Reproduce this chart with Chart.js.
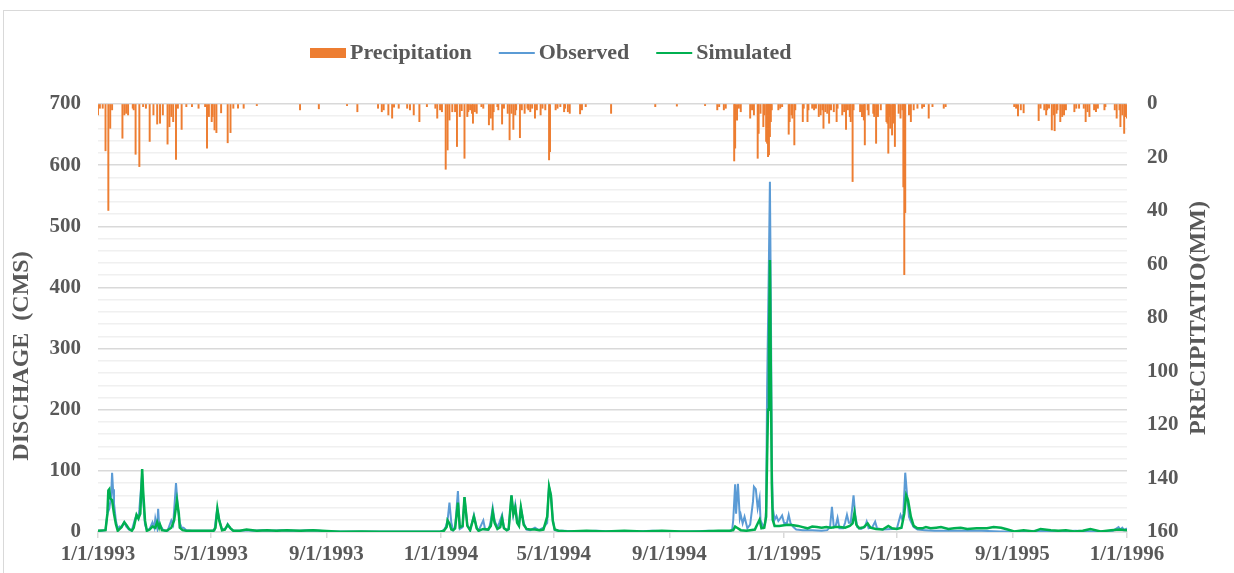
<!DOCTYPE html>
<html>
<head>
<meta charset="utf-8">
<script src="https://cdn.jsdelivr.net/npm/chart.js@4/dist/chart.umd.min.js"></script>
<style>
html,body{margin:0;padding:0;background:#fff;}
#wrap{position:relative;width:1234px;height:573px;overflow:hidden;background:#fff;}
#frame{position:absolute;left:3px;top:10px;width:1300px;height:700px;border:1px solid #d9d9d9;}
#c{position:absolute;left:0;top:0;}
</style>
</head>
<body>
<div id="wrap"><div id="frame"></div><canvas id="c" width="1234" height="573"></canvas></div>
<script>
// ---- Tick labels (x axis, days since 1/1/1993) ----
const tickDays = [0, 120, 243, 365, 485, 608, 730, 850, 973, 1095];
const tickLabels = ['1/1/1993','5/1/1993','9/1/1993','1/1/1994','5/1/1994','9/1/1994','1/1/1995','5/1/1995','9/1/1995','1/1/1996'];
// ---- Left axis gridline values (labelled every 100) ----
const dischargeGrid = [0,20,40,60,80,100,120,140,160,180,200,220,240,260,280,300,320,340,360,380,400,420,440,460,480,500,520,540,560,580,600,620,640,660,680,700];
// ---- Right axis tick values ----
const precipTicks = [0,20,40,60,80,100,120,140,160];

// ---- Precipitation (mm), day index and value ----
const precipDay = [0,2,5,8,11,13,15,26,28,30,32,37,38,40,44,48,51,55,59,63,66,69,74,76,78,80,83,85,89,94,100,107,114,116,118,121,122,124,126,131,138,141,144,149,155,169,215,235,265,276,298,302,304,309,313,315,320,
329,332,336,342,350,359,361,364,366,370,372,374,377,380,382,385,387,390,393,394,396,398,399,401,403,408,410,416,418,420,421,425,426,430,432,436,438,440,442,444,445,449,451,454,457,458,460,462,465,467,471,473,476,480,481,487,489,492,496,497,500,502,513,515,519,546,593,616,
646,659,661,666,668,677,678,680,682,684,694,696,698,702,703,705,708,709,711,712,713,714,715,716,717,724,726,728,735,736,738,739,741,742,750,751,755,756,760,762,764,767,769,771,772,774,776,778,780,783,786,787,792,794,796,798,800,801,803,804,811,813,815,816,819,820,825,826,828,830,833,839,840,841,842,843,845,846,847,848,852,854,856,857,858,859,863,865,868,872,877,879,884,888,900,902,
975,977,979,982,985,1001,1003,1007,1009,1010,1012,1015,1017,1018,1020,1021,1024,1026,1028,1030,1039,1041,1044,1049,1051,1053,1055,1060,1062,1064,1071,1072,1082,1084,1087,1088,1090,1092,1093,1095];
const precipMM = [4.1,1.6,1.6,17.5,39.8,9.1,2.2,12.8,4.1,3.5,4.1,1.6,2.2,18.8,23.4,1,1.6,14,4.1,7.5,7.2,4.1,15,8.5,4.7,6.6,20.7,1.6,9.5,1,1,1.6,1,16.5,4.7,6.6,4.7,9.7,10.7,3.3,14.5,10.7,1.6,1.6,1.6,0.6,2.2,1.8,0.6,2.9,1.6,2.9,2.2,4.1,5.3,1.2,1.6,
1.6,2.2,4.1,6.6,1,1.6,5.3,2.2,2.9,24.4,17.2,6,2.9,2.9,15.9,4.7,2.5,20.3,4.7,2.9,2.2,3.5,7.2,2.9,3.5,1,1.6,7.8,5.3,9.7,2.9,1,2.2,7.5,1.6,3.5,13.4,3.5,9.5,4.1,2.2,12.6,2.2,3.5,1.6,2.2,2.9,1.6,5.3,2.2,4.1,1.6,2.2,20.9,17.8,2.2,1.6,1,2.9,1.6,2.9,3.5,3.7,2.2,1,3.5,1,0.8,
0.6,2.2,1,2.2,1.6,21.3,16.5,6,1.6,2.9,5.3,2.2,4.1,20.3,11,3.5,8.5,4.1,14,14.7,19.7,19,12.2,6.6,2.2,2.2,1.6,1,11.3,6.6,4.1,5.3,15.3,2.2,6.6,1.6,6.6,2.2,1.6,2.2,1.6,4.7,4.1,2.2,9.1,2.9,3.5,7.2,2.2,2.9,6.6,1.6,4.1,2.9,9.5,2.2,4.7,6.6,29,2.2,2.9,4.7,6,15.3,2.2,4.1,3.5,4.7,14.7,4.7,2.2,6.6,7.2,18.4,4.7,9.1,11.6,7.2,4.7,15.9,3.5,5.3,2.2,31,63.8,40.6,4.1,6.6,2.2,1.6,1.6,1,5.3,1,1.6,1,
1,1.6,4.5,2.2,3.3,6.2,1.6,2.2,4.1,2.2,1.6,9.7,4.1,10,3.5,2.2,6.6,4.7,4.1,2.2,2.9,1.6,1.6,1.6,6.6,2.9,4.7,2.2,2.9,1.6,2.2,1,2.2,5.3,2.2,8.5,4.1,11,4.7,5.3];

// ---- Observed discharge (CMS) ----
const obsDay = [0,4,8,10,12,14,15,16,17,19,21,23,25,28,30,33,36,39,41,43,44,47,48,50,52,55,58,60,61,63,64,65,67,69,71,74,78,80,83,85,87,89,91,94,100,110,120,124,126,127,129,132,135,137,138,141,144,150,158,165,175,185,195,205,215,225,235,245,260,280,300,320,340,355,365,368,370,372,374,376,378,380,383,385,388,390,393,396,400,403,405,410,412,416,418,420,422,425,427,430,432,435,437,440,442,444,446,448,450,453,456,460,465,469,474,478,479,480,482,484,486,490,495,510,530,550,570,590,610,630,650,665,673,675,676,678,679,681,683,684,686,688,691,694,697,698,700,702,704,705,708,710,711,712,714,715,716,717,718,720,722,724,726,728,730,733,735,737,740,743,750,760,770,776,779,781,783,785,787,789,793,795,797,799,801,803,804,806,808,812,816,818,820,824,827,829,835,845,850,854,856,857,859,861,863,865,868,872,880,890,900,920,940,960,980,1000,1020,1040,1060,1080,1086,1088,1090,1092,1095];
const obsQ = [2,2,3,30,38,60,97,70,47,19,5,9,8,16,9,4,3,19,28,22,37,95,55,12,3,5,16,7,22,7,38,12,9,4,2,2,19,12,80,40,15,7,7,3,2,2,2,3,28,38,20,4,5,8,13,6,2,2,3,2,3,2,3,2,2,3,2,1,1,1,1,1,1,1,1,3,8,19,48,15,3,7,67,5,8,57,12,3,28,7,2,19,4,4,19,40,19,7,15,28,7,3,4,60,28,45,19,13,40,15,4,3,7,3,7,15,55,74,60,20,3,2,2,1,2,1,1,2,1,1,2,1,1,5,20,78,30,79,22,28,14,25,6,12,50,74,70,39,55,20,8,15,40,230,450,573,380,120,40,20,26,18,22,27,15,14,28,14,8,4,3,3,2,3,8,41,8,10,23,6,6,15,28,15,15,45,60,25,8,5,8,17,6,8,17,6,4,5,5,28,20,30,97,60,25,17,8,4,3,2,2,2,2,1,1,2,1,2,1,2,8,4,7,3,6];

// ---- Simulated discharge (CMS) ----
const simDay = [0,8,10,11,12,13,15,17,19,21,25,28,30,33,36,38,41,43,45,47,48,50,52,55,58,61,63,65,66,68,73,78,81,84,86,87,90,94,110,123,125,127,129,132,135,138,141,144,151,158,169,180,190,201,215,229,243,258,280,300,332,364,368,371,372,374,376,378,380,383,385,388,390,393,396,400,403,405,410,415,418,420,422,425,428,430,432,435,437,440,442,444,446,448,450,453,456,460,465,470,474,478,480,482,484,486,490,500,520,540,560,580,600,620,640,660,672,676,678,680,684,690,694,699,702,704,706,709,711,712,713,714,715,716,717,718,720,725,730,735,740,745,750,755,760,765,770,775,780,785,790,795,800,803,805,807,810,815,819,822,828,835,841,845,850,855,858,860,862,865,868,872,877,881,886,892,897,905,911,918,925,935,946,953,961,968,975,985,996,1003,1014,1022,1030,1039,1048,1056,1067,1078,1087,1095];
const simQ = [2,3,30,68,70,55,52,30,13,2,8,16,12,5,2,7,28,22,30,103,68,19,2,4,9,7,16,7,12,3,2,7,19,52,30,7,3,2,2,2,7,38,19,3,4,12,6,2,2,4,2,3,2,3,2,3,1.6,0.5,1,0.5,0.5,0.5,2,8,19,14,4,3,6,48,8,10,57,10,3,25,6,2,5,4,10,33,15,5,8,22,6,3,5,60,30,40,15,10,40,12,5,4,4,3,4,25,74,60,18,4,2,1,2,1,2,1,2,1,1,2,2,3,9,7,3,2,3,4,14,20,6,7,25,120,200,300,445,260,80,20,10,10,11,12,11,10,8,6,9,8,7,8,7,8,8,7,10,14,32,12,6,8,14,7,5,4,10,6,5,7,30,60,52,25,10,6,6,8,6,7,8,5,6,7,5,6,6,8,7,4,1,3,1,5,3,2,3,1,2,5,1,3,4,3];

const FONT = "'Liberation Serif','Times New Roman',serif";
const TXT = '#595959';

const pts = (xs, ys) => xs.map((d, i) => ({x: d, y: ys[i]}));

const overlay = {
  id: 'overlay',
  afterDraw(chart) {
    const ctx = chart.ctx;
    ctx.save();
    // legend
    ctx.font = 'bold 22px ' + FONT;
    ctx.textBaseline = 'middle';
    let x = 310;
    const cy = 53;
    chart.data.datasets.forEach(ds => {
      if (ds.type === 'bar') {
        ctx.fillStyle = ds.backgroundColor;
        ctx.fillRect(x, cy - 5, 36, 10);
      } else {
        ctx.strokeStyle = ds.borderColor;
        ctx.lineWidth = 2;
        ctx.beginPath();
        ctx.moveTo(x, cy);
        ctx.lineTo(x + 36, cy);
        ctx.stroke();
      }
      ctx.fillStyle = TXT;
      ctx.textAlign = 'left';
      ctx.fillText(ds.label, x + 40, cy);
      x += 40 + ctx.measureText(ds.label).width + 27;
    });
    // axis titles
    ctx.font = 'bold 24px ' + FONT;
    ctx.textAlign = 'center';
    ctx.fillStyle = TXT;
    ctx.save();
    ctx.translate(22, 356);
    ctx.rotate(-Math.PI / 2);
    ctx.fillText('DISCHAGE  (CMS)', 0, 0);
    ctx.restore();
    ctx.save();
    ctx.translate(1199, 318);
    ctx.rotate(-Math.PI / 2);
    ctx.fillText('PRECIPITATIO(MM)', 0, 0);
    ctx.restore();
    ctx.restore();
  }
};

new Chart(document.getElementById('c'), {
  type: 'bar',
  data: {
    datasets: [
      {
        type: 'bar', label: 'Precipitation', data: pts(precipDay, precipMM),
        yAxisID: 'y2', xAxisID: 'x', backgroundColor: '#ed7d31', borderWidth: 0,
        barThickness: 1.3, order: 3
      },
      {
        type: 'line', label: 'Observed', data: pts(obsDay, obsQ),
        yAxisID: 'y', xAxisID: 'x', borderColor: '#5b9bd5', backgroundColor: '#5b9bd5',
        borderWidth: 2, pointRadius: 0, tension: 0, order: 2
      },
      {
        type: 'line', label: 'Simulated', data: pts(simDay, simQ),
        yAxisID: 'y', xAxisID: 'x', borderColor: '#00b050', backgroundColor: '#00b050',
        borderWidth: 2.5, pointRadius: 0, tension: 0, order: 1
      }
    ]
  },
  options: {
    responsive: false,
    animation: false,
    devicePixelRatio: 1,
    layout: { padding: { top: 104, left: 0, right: 0, bottom: 0 } },
    plugins: { legend: { display: false }, tooltip: { enabled: false }, title: { display: false } },
    scales: {
      x: {
        type: 'linear', position: 'bottom', min: 0, max: 1095, offset: false,
        afterBuildTicks: s => { s.ticks = tickDays.map(v => ({ value: v })); },
        afterFit: s => { s.height = 41; },
        ticks: {
          autoSkip: false, maxRotation: 0, minRotation: 0, padding: 4,
          color: TXT, font: { family: FONT, size: 21, weight: 'bold' },
          callback: v => { const i = tickDays.indexOf(v); return i >= 0 ? tickLabels[i] : ''; }
        },
        grid: { offset: false, drawOnChartArea: false, drawTicks: true, tickLength: 6, color: '#d9d9d9', lineWidth: 1.5 },
        border: { display: true, color: '#d9d9d9', width: 1.5 }
      },
      y: {
        type: 'linear', position: 'left', min: 0, max: 700,
        afterBuildTicks: s => { s.ticks = dischargeGrid.map(v => ({ value: v })); },
        afterFit: s => { s.width = 98; },
        ticks: {
          autoSkip: false, padding: 17, color: TXT, font: { family: FONT, size: 21, weight: 'bold' },
          callback: v => (v % 100 === 0 ? String(v) : '')
        },
        grid: {
          drawTicks: false,
          color: c => (c.tick && c.tick.value % 100 === 0 ? '#d9d9d9' : '#f0f0f0'),
          lineWidth: 1.5
        },
        border: { display: false }
      },
      y2: {
        type: 'linear', position: 'right', min: 0, max: 160, reverse: true,
        afterBuildTicks: s => { s.ticks = precipTicks.map(v => ({ value: v })); },
        afterFit: s => { s.width = 107; },
        ticks: { autoSkip: false, padding: 20, color: TXT, font: { family: FONT, size: 21, weight: 'bold' } },
        grid: { drawOnChartArea: false, drawTicks: false },
        border: { display: false }
      }
    }
  },
  plugins: [overlay]
});
</script>
</body>
</html>
